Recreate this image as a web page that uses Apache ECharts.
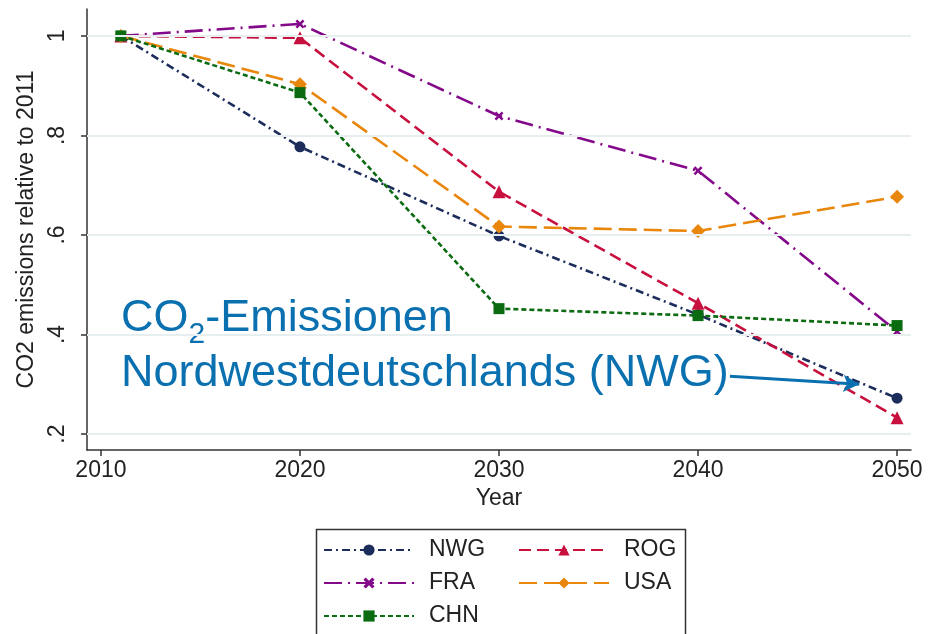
<!DOCTYPE html>
<html>
<head>
<meta charset="utf-8">
<script src="https://cdn.jsdelivr.net/npm/echarts@6/dist/echarts.min.js"></script>
<style>
  html, body { margin: 0; padding: 0; background: #fff; }
  #chart { width: 934px; height: 634px; }
</style>
</head>
<body>
<div id="chart"></div>
<script>
// Years and emissions relative to 2011
const years = [2011, 2020, 2030, 2040, 2050];
const nwg = [1.0, 0.777, 0.598, 0.440, 0.272];
const rog = [1.0, 0.996, 0.687, 0.463, 0.233];
const fra = [1.0, 1.024, 0.839, 0.729, 0.406];
const usa = [1.0, 0.903, 0.617, 0.608, 0.677];
const chn = [1.0, 0.886, 0.452, 0.438, 0.418];

const xTicks = [2010, 2020, 2030, 2040, 2050];
const yTicks = [0.2, 0.4, 0.6, 0.8, 1.0];

// arrow from the annotation to the NWG line (data space)
const arrowFrom = [2041.6, 0.316];
const arrowTo = [2048.1, 0.300];

const font = '"Liberation Sans", Arial, sans-serif';
const crossIcon = 'path://M0,2L2,0L5,3L8,0L10,2L7,5L10,8L8,10L5,7L2,10L0,8L3,5Z';
const blue = '#0a70b0';

const toPairs = (vals) => years.map((y, i) => [y, vals[i]]);

const makeSeries = (name, vals, color, dash, symbol, size) => ({
    name: name,
    type: 'line',
    data: toPairs(vals),
    symbol: symbol,
    symbolSize: size,
    showSymbol: true,
    lineStyle: { color: color, width: 2.6, type: dash },
    itemStyle: { color: color },
    z: 3
});

const chart = echarts.init(document.getElementById('chart'));

chart.setOption({
    animation: false,
    backgroundColor: '#fff',
    textStyle: { fontFamily: font },
    grid: { left: 87, top: 9, right: 23, bottom: 184, outerBoundsMode: 'none', containLabel: false },
    xAxis: {
        type: 'value',
        min: 2009.3,
        max: 2050.7,
        name: 'Year',
        nameLocation: 'middle',
        nameGap: 36,
        nameTextStyle: { fontSize: 23, color: '#222', fontFamily: font },
        axisLine: { show: true, lineStyle: { color: '#333', width: 1.5 } },
        axisTick: { show: true, length: 6, customValues: xTicks, lineStyle: { color: '#333', width: 1.5 } },
        axisLabel: { customValues: xTicks, fontSize: 23, color: '#222', margin: 9, fontFamily: font, formatter: (v) => String(v) },
        splitLine: { show: false }
    },
    yAxis: {
        type: 'value',
        min: 0.168,
        max: 1.054,
        name: 'CO2 emissions relative to 2011',
        nameLocation: 'middle',
        nameGap: 41,
        nameRotate: 90,
        nameTextStyle: { fontSize: 23, color: '#222', fontFamily: font },
        axisLine: { show: true, lineStyle: { color: '#333', width: 1.5 } },
        axisTick: { show: true, length: 6, customValues: yTicks, lineStyle: { color: '#333', width: 1.5 } },
        axisLabel: {
            customValues: yTicks,
            rotate: 90,
            fontSize: 23,
            color: '#222',
            margin: 18,
            fontFamily: font,
            formatter: (v) => (Math.abs(v - 1) < 1e-9 ? '1' : String(Math.round(v * 10) / 10).replace(/^0/, ''))
        },
        splitLine: { show: false }
    },
    legend: {
        left: 323,
        top: 538,
        width: 400,
        orient: 'horizontal',
        itemWidth: 90,
        itemHeight: 14,
        itemGap: 9,
        padding: 0,
        data: ['NWG', 'ROG', 'FRA', 'USA', 'CHN'],
        textStyle: { fontSize: 23, color: '#222', fontFamily: font, width: 80, lineHeight: 24, padding: [0, 0, 0, 10] }
    },
    graphic: [
        {
            type: 'rect',
            left: 314,
            top: 527,
            shape: { width: 369, height: 140 },
            style: { fill: 'none', stroke: '#333', lineWidth: 1.5 },
            silent: true
        },
        {
            type: 'text',
            left: 121,
            top: 296,
            style: {
                text: '{a|CO}{s|2}{a|-Emissionen}',
                fill: blue,
                rich: {
                    a: { fontSize: 45, fontFamily: font, fill: blue, verticalAlign: 'top', lineHeight: 50 },
                    s: { fontSize: 30, fontFamily: font, fill: blue, verticalAlign: 'top', lineHeight: 30, padding: [24, 0, 0, 0] }
                }
            }
        },
        {
            type: 'text',
            left: 121,
            top: 351,
            style: {
                text: 'Nordwestdeutschlands (NWG)',
                fill: blue,
                font: '45px ' + font
            }
        }
    ],
    series: [
        makeSeries('NWG', nwg, '#1c2d5c', [8, 4, 2, 4], 'circle', 11),
        makeSeries('ROG', rog, '#c8103e', [12, 6], 'triangle', 13),
        makeSeries('FRA', fra, '#84098a', [18, 6, 2, 6], crossIcon, 9),
        makeSeries('USA', usa, '#e8870c', [18, 7], 'diamond', 14),
        makeSeries('CHN', chn, '#0b6b10', [5, 3], 'rect', 11),
        {
            // light horizontal grid lines
            name: 'refs',
            type: 'line',
            data: [],
            silent: true,
            z: 1,
            markLine: {
                silent: true,
                symbol: ['none', 'none'],
                label: { show: false },
                lineStyle: { color: '#e6eef0', width: 2, type: 'solid' },
                data: yTicks.map(v => ({ yAxis: v }))
            }
        },
        {
            // annotation arrow
            name: 'arrow',
            type: 'line',
            data: [],
            silent: true,
            z: 5,
            markLine: {
                silent: true,
                symbol: ['none', 'arrow'],
                symbolSize: [13, 16],
                label: { show: false },
                lineStyle: { color: blue, width: 3, type: 'solid' },
                data: [[{ coord: arrowFrom }, { coord: arrowTo }]]
            }
        }
    ]
});
</script>
</body>
</html>
